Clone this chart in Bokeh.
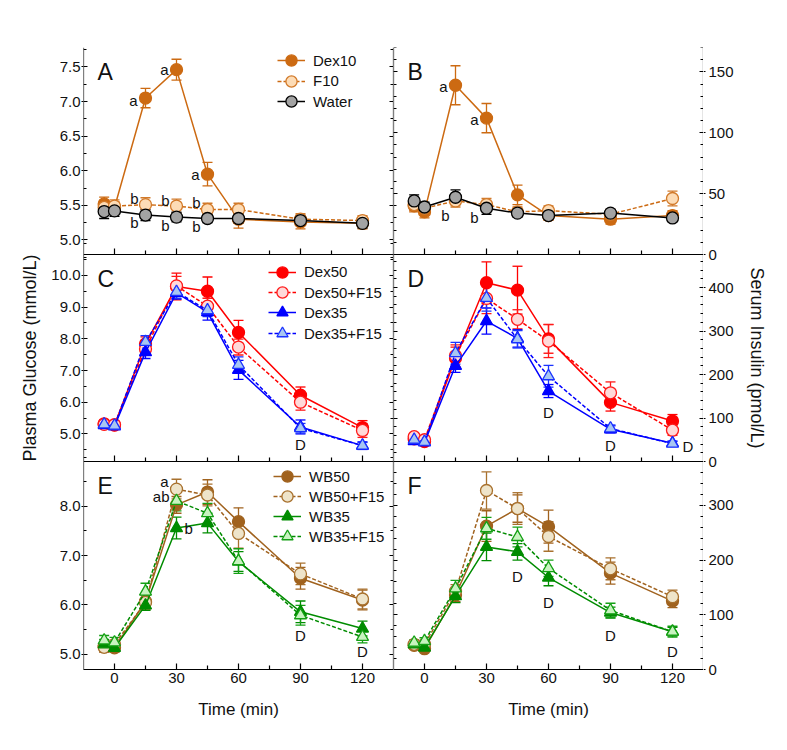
from bokeh.plotting import figure
from bokeh.layouts import row
from bokeh.models import (Range1d, LinearAxis, FixedTicker, NumeralTickFormatter, ColumnDataSource,
                          Whisker, TeeHead, Legend, LegendItem, Label, CustomLabelingPolicy)
from bokeh.embed import file_html
from bokeh.resources import INLINE

FONT = "Liberation Sans"
TXT = "#111111"

# ---------------- data ----------------
time = [-5, 0, 15, 30, 45, 60, 90, 120]
time_ticks = [0, 30, 60, 90, 120]
time_minor = [15, 45, 75, 105]

# Panel A (glucose, mmol/L)
A_dex10 = [5.52, 5.47, 7.05, 7.46, 5.95, 5.30, 5.26, 5.24]
A_dex10_se = [0.10, 0.08, 0.14, 0.15, 0.17, 0.13, 0.10, 0.08]
A_f10 = [5.47, 5.49, 5.51, 5.49, 5.44, 5.44, 5.30, 5.28]
A_f10_se = [0.10, 0.09, 0.10, 0.10, 0.09, 0.09, 0.08, 0.07]
A_water = [5.41, 5.42, 5.36, 5.33, 5.31, 5.31, 5.28, 5.24]
A_water_se = [0.10, 0.08, 0.08, 0.07, 0.06, 0.07, 0.07, 0.07]

# Panel B (insulin, pmol/L)
B_dex10 = [40, 35, 139, 112, 49, 32, 29, 32]
B_dex10_se = [5, 5, 16, 12, 8, 4, 4, 4]
B_f10 = [41, 38, 44, 41, 35, 36, 33, 46]
B_f10_se = [5, 4, 5, 5, 4, 4, 4, 6]
B_water = [44, 39, 47, 38, 34, 32, 34, 30]
B_water_se = [5, 4, 6, 5, 3, 3, 3, 3]

# Panel C (glucose)
C_dex50 = [5.32, 5.28, 7.84, 9.65, 9.50, 8.20, 6.22, 5.20]
C_dex50_se = [0.08, 0.08, 0.22, 0.42, 0.45, 0.38, 0.26, 0.22]
C_dex50f = [5.30, 5.29, 7.68, 9.67, 9.03, 7.74, 6.00, 5.11]
C_dex50f_se = [0.08, 0.08, 0.20, 0.30, 0.25, 0.25, 0.25, 0.22]
C_dex35 = [5.28, 5.24, 7.58, 9.45, 8.84, 7.02, 5.22, 4.63]
C_dex35_se = [0.08, 0.07, 0.20, 0.20, 0.25, 0.30, 0.22, 0.12]
C_dex35f = [5.30, 5.26, 7.90, 9.48, 8.90, 7.18, 5.18, 4.63]
C_dex35f_se = [0.07, 0.07, 0.20, 0.20, 0.20, 0.25, 0.15, 0.10]

# Panel D (insulin)
D_dex50 = [52, 46, 238, 411, 394, 282, 136, 93]
D_dex50_se = [6, 5, 25, 48, 55, 33, 20, 15]
D_dex50f = [57, 50, 243, 375, 327, 277, 158, 72]
D_dex50f_se = [6, 5, 25, 35, 22, 38, 25, 12]
D_dex35 = [47, 44, 220, 323, 283, 162, 74, 42]
D_dex35_se = [5, 5, 15, 30, 20, 15, 8, 5]
D_dex35f = [50, 45, 249, 376, 281, 196, 76, 41]
D_dex35f_se = [5, 5, 25, 30, 20, 25, 8, 5]

# Panel E (glucose)
E_wb50 = [5.16, 5.13, 6.07, 8.03, 8.29, 7.69, 6.54, 6.10]
E_wb50_se = [0.10, 0.08, 0.15, 0.17, 0.25, 0.28, 0.22, 0.20]
E_wb50f = [5.14, 5.20, 6.05, 8.35, 8.23, 7.45, 6.63, 6.12]
E_wb50f_se = [0.10, 0.08, 0.15, 0.20, 0.22, 0.30, 0.22, 0.20]
E_wb35 = [5.20, 5.13, 5.99, 7.56, 7.66, 6.88, 5.86, 5.52]
E_wb35_se = [0.10, 0.08, 0.10, 0.22, 0.20, 0.20, 0.22, 0.15]
E_wb35f = [5.28, 5.24, 6.27, 8.11, 7.86, 6.89, 5.79, 5.35]
E_wb35f_se = [0.10, 0.10, 0.17, 0.20, 0.20, 0.25, 0.20, 0.12]

# Panel F (insulin)
F_wb50 = [44, 38, 136, 262, 294, 261, 176, 125]
F_wb50_se = [5, 5, 12, 28, 25, 30, 20, 12]
F_wb50f = [46, 46, 143, 327, 294, 243, 184, 133]
F_wb50f_se = [6, 5, 12, 34, 29, 27, 20, 12]
F_wb35 = [46, 40, 134, 224, 215, 168, 104, 69]
F_wb35_se = [5, 5, 12, 25, 15, 15, 10, 8]
F_wb35f = [49, 52, 148, 258, 242, 185, 108, 69]
F_wb35f_se = [5, 6, 15, 20, 18, 15, 13, 10]

# ---------------- styles ----------------
ORANGE = "#CC6A12"
STY = {
    "Dex10": dict(edge=ORANGE, fill=ORANGE, marker="circle", dash="solid", line=ORANGE),
    "F10": dict(edge="#D27A2A", fill="#FDDCB6", marker="circle", dash="4 2", line=ORANGE),
    "Water": dict(edge="#000000", fill="#A3A3A3", marker="circle", dash="solid", line="#000000"),
    "Dex50": dict(edge="#FF0000", fill="#FF0000", marker="circle", dash="solid", line="#FF0000"),
    "Dex50+F15": dict(edge="#FF1A1A", fill="#FFD9D9", marker="circle", dash="4 2", line="#FF0000"),
    "Dex35": dict(edge="#0000FF", fill="#0000FF", marker="triangle", dash="solid", line="#0000FF"),
    "Dex35+F15": dict(edge="#1A33FF", fill="#A8C6F2", marker="triangle", dash="4 2", line="#0000FF"),
    "WB50": dict(edge="#A0621E", fill="#A0621E", marker="circle", dash="solid", line="#A0621E"),
    "WB50+F15": dict(edge="#A8712E", fill="#EEE4CA", marker="circle", dash="4 2", line="#A0621E"),
    "WB35": dict(edge="#008C00", fill="#008C00", marker="triangle", dash="solid", line="#008C00"),
    "WB35+F15": dict(edge="#14A014", fill="#C8F3C0", marker="triangle", dash="4 2", line="#008C00"),
}

panels = {
    "A": dict(series=[("Dex10", A_dex10, A_dex10_se), ("F10", A_f10, A_f10_se), ("Water", A_water, A_water_se)],
              yr=(4.79, 7.78), major=[5.0, 5.5, 6.0, 6.5, 7.0, 7.5],
              minor=[4.75 + 0.25 * i for i in range(13)], fmt="0.0", col=0, row=0),
    "B": dict(series=[("Dex10", B_dex10, B_dex10_se), ("F10", B_f10, B_f10_se), ("Water", B_water, B_water_se)],
              yr=(0, 170), major=[0, 50, 100, 150], minor=list(range(0, 171, 10)), fmt="0",
              col=1, row=0),
    "C": dict(series=[("Dex50", C_dex50, C_dex50_se), ("Dex50+F15", C_dex50f, C_dex50f_se),
                      ("Dex35", C_dex35, C_dex35_se), ("Dex35+F15", C_dex35f, C_dex35f_se)],
              yr=(4.13, 10.66), major=[5.0, 6.0, 7.0, 8.0, 9.0, 10.0],
              minor=[4.5 + 0.5 * i for i in range(14)], fmt="0.0", col=0, row=1),
    "D": dict(series=[("Dex50", D_dex50, D_dex50_se), ("Dex50+F15", D_dex50f, D_dex50f_se),
                      ("Dex35", D_dex35, D_dex35_se), ("Dex35+F15", D_dex35f, D_dex35f_se)],
              yr=(0, 476), major=[0, 100, 200, 300, 400], minor=list(range(0, 477, 20)), fmt="0",
              col=1, row=1),
    "E": dict(series=[("WB50", E_wb50, E_wb50_se), ("WB50+F15", E_wb50f, E_wb50f_se),
                      ("WB35", E_wb35, E_wb35_se), ("WB35+F15", E_wb35f, E_wb35f_se)],
              yr=(4.69, 8.91), major=[5.0, 6.0, 7.0, 8.0],
              minor=[4.5 + 0.5 * i for i in range(10)], fmt="0.0", col=0, row=2),
    "F": dict(series=[("WB50", F_wb50, F_wb50_se), ("WB50+F15", F_wb50f, F_wb50f_se),
                      ("WB35", F_wb35, F_wb35_se), ("WB35+F15", F_wb35f, F_wb35f_se)],
              yr=(0, 380), major=[0, 100, 200, 300], minor=list(range(0, 381, 20)), fmt="0",
              col=1, row=2),
}

# legend placement (px from frame left, row centres in px above frame bottom)
legend_pos = {"A": (194, [609, 588.5, 568]),
              "C": (185, [397.3, 377, 356.7, 336]),
              "E": (190, [193, 173, 153, 133])}

# significance annotations: panel, series, time, text, dx(px), dy(px, + = down), align
annotations = [
    ("A", "Dex10", 15, "a", -8, 2, "right"), ("A", "Dex10", 30, "a", -8, 0, "right"),
    ("A", "Dex10", 45, "a", -8, 0, "right"),
    ("A", "F10", 15, "b", -7, -6, "right"), ("A", "F10", 30, "b", -7, -6, "right"),
    ("A", "F10", 45, "b", -7, -7, "right"),
    ("A", "Water", 15, "b", -7, 7, "right"), ("A", "Water", 30, "b", -7, 8, "right"),
    ("A", "Water", 45, "b", -7, 8, "right"),
    ("B", "Dex10", 15, "a", -8, 1, "right"), ("B", "Dex10", 30, "a", -8, 1, "right"),
    ("B", "F10", 15, "b", -6, 15, "right"), ("B", "F10", 30, "b", -8, 13, "right"),
    ("C", "Dex35", 90, "D", 0, 18, "center"),
    ("D", "Dex35", 60, "D", 0, 21, "center"), ("D", "Dex35", 90, "D", 0, 16, "center"),
    ("D", "Dex35", 120, "D", 10, 3, "left"),
    ("E", "WB50+F15", 30, "a", -8, -8, "right"), ("E", "WB50+F15", 30, "ab", -7, 7, "right"),
    ("E", "WB35", 30, "b", 8, 0, "left"),
    ("E", "WB35+F15", 90, "D", 0, 20, "center"), ("E", "WB35+F15", 120, "D", 0, 15, "center"),
    ("F", "WB35", 45, "D", 0, 25, "center"), ("F", "WB35", 60, "D", 0, 25, "center"),
    ("F", "WB35", 90, "D", 0, 23, "center"), ("F", "WB35", 120, "D", 0, 20, "center"),
]

Y_TITLE_L = "Plasma Glucose (mmol/L)"
Y_TITLE_R = "Serum Insulin (pmol/L)"
X_TITLE = "Time (min)"

XR = (-15, 135)
FRAME_W = 310
ROW_H = [207, 207, 208]
FRAME_H = sum(ROW_H)
TOP, BOTTOM = 47, 60
LEFT_W, RIGHT_W = 83, 70
PAD = 12  # extra room below the label strips so the lowest labels are not cut


def panel_range(lo, hi, r, pad_below=0):
    per = (hi - lo) / ROW_H[r]
    below = sum(ROW_H[r + 1:]) + pad_below
    above = sum(ROW_H[:r])
    return Range1d(lo - below * per, hi + above * per)


def base_style(ax):
    ax.axis_line_color = "black"
    ax.axis_line_width = 1.2
    ax.major_tick_line_color = "black"
    ax.minor_tick_line_color = "black"
    ax.major_tick_line_width = 1.2
    ax.minor_tick_line_width = 1.2
    ax.major_label_text_font = FONT
    ax.major_label_text_color = TXT
    ax.major_label_text_font_size = "15px"
    ax.axis_label_text_font = FONT
    ax.axis_label_text_font_style = "normal"
    ax.axis_label_text_color = TXT
    ax.axis_label_text_font_size = "18px"


def hide_labels(ax):
    ax.major_label_standoff = 0
    ax.major_label_policy = CustomLabelingPolicy(code="return []")


def txt_label(**kw):
    base = dict(text_font=FONT, text_color=TXT, text_font_size="15px", text_baseline="middle")
    base.update(kw)
    return Label(**base)


# ---------- value-axis strips (labels of the outer y axes) ----------
def axis_strip(col):
    left = col == 0
    keys = [k for k, c in panels.items() if c["col"] == col]
    s = figure(x_range=Range1d(0, 1), y_range=Range1d(0, 1),
               frame_width=LEFT_W if left else RIGHT_W, frame_height=FRAME_H + PAD,
               x_axis_location=None, y_axis_location=None, output_backend="svg",
               toolbar_location=None, tools="", min_border_left=0, min_border_right=0,
               min_border_top=TOP, min_border_bottom=BOTTOM - PAD)
    s.outline_line_color = None
    s.background_fill_color = "white"
    s.border_fill_color = "white"
    for g in s.grid:
        g.visible = False
    s.extra_y_ranges = {k: panel_range(*panels[k]["yr"], panels[k]["row"], PAD) for k in keys}
    for k in keys:
        cfg = panels[k]
        ax = LinearAxis(y_range_name=k, fixed_location=1 if left else 0, bounds=cfg["yr"],
                        ticker=FixedTicker(ticks=cfg["major"], minor_ticks=[]),
                        formatter=NumeralTickFormatter(format=cfg["fmt"]))
        base_style(ax)
        ax.axis_line_color = None
        ax.major_tick_in, ax.major_tick_out = 0, 2
        ax.minor_tick_in, ax.minor_tick_out = 0, 0
        ax.major_label_standoff = 1 if left else 3
        if k == "C":
            ax.axis_label = Y_TITLE_L
            ax.axis_label_standoff = 8
        if k == "D":
            ax.axis_label = Y_TITLE_R
            ax.axis_label_standoff = 10
        s.add_layout(ax, "left" if left else "right")
    return s


# ---------- data columns ----------
cols = []
for col in (0, 1):
    left = col == 0
    keys = [k for k, c in panels.items() if c["col"] == col]
    p = figure(x_range=Range1d(*XR), y_range=Range1d(0, 1),
               frame_width=FRAME_W, frame_height=FRAME_H,
               x_axis_location=None, y_axis_location=None,
               output_backend="svg", toolbar_location=None, tools="",
               min_border_left=0, min_border_right=0, min_border_top=TOP, min_border_bottom=BOTTOM)
    p.outline_line_color = None
    p.background_fill_color = "white"
    p.border_fill_color = "white"
    for g in p.grid:
        g.visible = False
    p.extra_y_ranges = {k: panel_range(*panels[k]["yr"], panels[k]["row"]) for k in keys}

    xb = LinearAxis(ticker=FixedTicker(ticks=time_ticks, minor_ticks=time_minor), axis_label=X_TITLE)
    base_style(xb)
    xb.major_tick_in, xb.major_tick_out = 6, 0
    xb.minor_tick_in, xb.minor_tick_out = 4, 0
    xb.major_label_standoff = 3
    xb.axis_label_text_font_size = "17px"
    xb.axis_label_standoff = 14
    p.add_layout(xb, "below")

    for key in keys:
        cfg = panels[key]
        lo, hi = cfg["yr"]
        r = cfg["row"]
        for side_x, side in ((XR[0], "left"), (XR[1], "right")):
            ax = LinearAxis(y_range_name=key, fixed_location=side_x, bounds=(lo, hi),
                            ticker=FixedTicker(ticks=cfg["major"], minor_ticks=cfg["minor"]))
            base_style(ax)
            ax.major_tick_in, ax.major_tick_out = 4, 0
            ax.minor_tick_in, ax.minor_tick_out = 3, 0
            hide_labels(ax)
            p.add_layout(ax, side)
        if r < 2:
            xa = LinearAxis(y_range_name=key, fixed_location=lo,
                            ticker=FixedTicker(ticks=time_ticks, minor_ticks=time_minor))
            base_style(xa)
            xa.major_tick_in, xa.major_tick_out = 6, 0
            xa.minor_tick_in, xa.minor_tick_out = 4, 0
            hide_labels(xa)
            p.add_layout(xa, "below")

        vals_by_name = {}
        items = []
        for name, vals, se in cfg["series"]:
            st = STY[name]
            vals_by_name[name] = vals
            src = ColumnDataSource(dict(x=time, y=vals,
                                        lo=[v - s for v, s in zip(vals, se)],
                                        hi=[v + s for v, s in zip(vals, se)]))
            w = Whisker(source=src, base="x", upper="hi", lower="lo", dimension="height",
                        y_range_name=key, line_color=st["edge"], line_width=1.3,
                        upper_head=TeeHead(size=10, line_color=st["edge"], line_width=1.3),
                        lower_head=TeeHead(size=10, line_color=st["edge"], line_width=1.3))
            p.add_layout(w)
            lr = p.line("x", "y", source=src, y_range_name=key, line_color=st["line"],
                        line_width=1.5, line_dash=st["dash"])
            sr = p.scatter("x", "y", source=src, y_range_name=key, marker=st["marker"], size=12,
                           fill_color=st["fill"], line_color=st["edge"], line_width=1.3)
            items.append(LegendItem(label=name, renderers=[lr, sr]))

        if key in legend_pos:
            lx, rows_y = legend_pos[key]
            for item, yc in zip(items, rows_y):
                lg = Legend(items=[item], location=(lx, yc - 15), padding=0, margin=0, spacing=0,
                            glyph_width=28, glyph_height=30, label_height=30, label_standoff=8,
                            label_text_font=FONT, label_text_font_size="15px", label_text_color=TXT,
                            border_line_color=None, background_fill_alpha=0)
                p.add_layout(lg)

        p.add_layout(txt_label(x=XR[0], y=hi, y_range_name=key, x_offset=14, y_offset=-24, text=key,
                               text_font_size="23px", text_align="left"))

        for pk, sname, t, txt, dx, dy, al in annotations:
            if pk != key:
                continue
            yv = vals_by_name[sname][time.index(t)]
            p.add_layout(txt_label(x=t, y=yv, y_range_name=key, x_offset=dx, y_offset=-dy, text=txt,
                                   text_align=al))
    cols.append(p)

layout = row(axis_strip(0), cols[0], cols[1], axis_strip(1))
open("out.html", "w").write(file_html(layout, INLINE))
